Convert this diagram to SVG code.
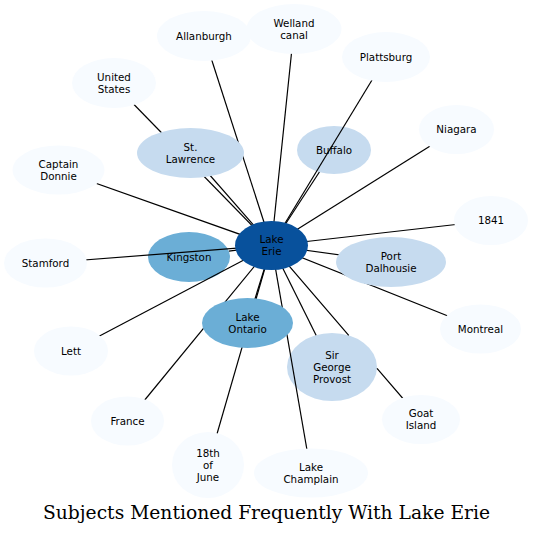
<svg xmlns="http://www.w3.org/2000/svg" width="533" height="534" viewBox="0 0 533 534">
<style>
text{font-family:"DejaVu Sans","Liberation Sans",sans-serif;font-size:10.3px;fill:#000;text-anchor:middle}
.c1{fill:#08519c}
.c2{fill:#6baed6}
.c3{fill:#c6dbef}
.c4{fill:#f7fbff}
#connectors path{stroke:#000;stroke-width:1.2;fill:none}
.title{font-family:"DejaVu Serif","Liberation Serif",serif;font-size:18px}
</style>
<rect width="533" height="534" fill="#fff"/>
<g id="node-kingston"><ellipse class="c2" cx="189" cy="257" rx="41" ry="25"/><text x="189" y="260.7">Kingston</text></g>
<g id="node-buffalo"><ellipse class="c3" cx="334" cy="150" rx="37" ry="24"/><text x="334" y="153.7">Buffalo</text></g>
<g id="node-sir-george-provost"><ellipse class="c3" cx="332" cy="367" rx="45" ry="34"/><text x="332" y="358.5">Sir</text><text x="332" y="370.7">George</text><text x="332" y="382.9">Provost</text></g>
<g id="connectors">
<path d="M204,36L271.5,245.5"/>
<path d="M294,29L271.5,245.5"/>
<path d="M386,57L271.5,245.5"/>
<path d="M114,84L271.5,245.5"/>
<path d="M58.5,170L271.5,245.5"/>
<path d="M456.5,129.5L271.5,245.5"/>
<path d="M491,220.5L271.5,245.5"/>
<path d="M45.5,263L271.5,245.5"/>
<path d="M71,351L271.5,245.5"/>
<path d="M127.5,421L271.5,245.5"/>
<path d="M208,465L271.5,245.5"/>
<path d="M311,473L271.5,245.5"/>
<path d="M271.5,245.5L348.7,335.4M377,368.3L421,419.5"/>
<path d="M480.5,329L271.5,245.5"/>
<path d="M190.5,153L271.5,245.5"/>
<path d="M247.5,323L271.5,245.5"/>
<path d="M391,262L271.5,245.5"/>
<path d="M228.9,251.2L271.5,245.5"/>
<path d="M319.4,172L271.5,245.5"/>
<path d="M316.1,335.2L271.5,245.5"/>
</g>
<g id="node-st-lawrence"><ellipse class="c3" cx="190.5" cy="153" rx="53.5" ry="25"/><text x="190.5" y="150.6">St.</text><text x="190.5" y="162.8">Lawrence</text></g>
<g id="node-lake-ontario"><ellipse class="c2" cx="247.5" cy="323" rx="45.5" ry="25"/><text x="247.5" y="320.6">Lake</text><text x="247.5" y="332.8">Ontario</text></g>
<g id="node-port-dalhousie"><ellipse class="c3" cx="391" cy="262" rx="55" ry="25"/><text x="391" y="259.6">Port</text><text x="391" y="271.8">Dalhousie</text></g>
<g id="node-allanburgh"><ellipse class="c4" cx="204" cy="36" rx="47" ry="25"/><text x="204" y="39.7">Allanburgh</text></g>
<g id="node-welland-canal"><ellipse class="c4" cx="294" cy="29" rx="47.5" ry="25"/><text x="294" y="26.6">Welland</text><text x="294" y="38.8">canal</text></g>
<g id="node-plattsburg"><ellipse class="c4" cx="386" cy="57" rx="44" ry="25"/><text x="386" y="60.7">Plattsburg</text></g>
<g id="node-united-states"><ellipse class="c4" cx="114" cy="83" rx="42" ry="25"/><text x="114" y="80.6">United</text><text x="114" y="92.8">States</text></g>
<g id="node-captain-donnie"><ellipse class="c4" cx="58.5" cy="170" rx="46" ry="24.5"/><text x="58.5" y="167.6">Captain</text><text x="58.5" y="179.8">Donnie</text></g>
<g id="node-niagara"><ellipse class="c4" cx="456.5" cy="129.5" rx="37.5" ry="24.5"/><text x="456.5" y="133.2">Niagara</text></g>
<g id="node-1841"><ellipse class="c4" cx="491" cy="220.5" rx="37" ry="24.5"/><text x="491" y="224.2">1841</text></g>
<g id="node-stamford"><ellipse class="c4" cx="45.5" cy="263" rx="41.5" ry="24.5"/><text x="45.5" y="266.7">Stamford</text></g>
<g id="node-lett"><ellipse class="c4" cx="71" cy="351" rx="37" ry="24.5"/><text x="71" y="354.7">Lett</text></g>
<g id="node-france"><ellipse class="c4" cx="127.5" cy="421" rx="36.5" ry="24.5"/><text x="127.5" y="424.7">France</text></g>
<g id="node-18th-of-june"><ellipse class="c4" cx="208" cy="465" rx="36" ry="33"/><text x="208" y="456.5">18th</text><text x="208" y="468.7">of</text><text x="208" y="480.9">June</text></g>
<g id="node-lake-champlain"><ellipse class="c4" cx="311" cy="473" rx="57" ry="24.5"/><text x="311" y="470.6">Lake</text><text x="311" y="482.8">Champlain</text></g>
<g id="node-goat-island"><ellipse class="c4" cx="421" cy="419.5" rx="39" ry="24.5"/><text x="421" y="417.1">Goat</text><text x="421" y="429.3">Island</text></g>
<g id="node-montreal"><ellipse class="c4" cx="480.5" cy="329" rx="40.5" ry="24.5"/><text x="480.5" y="332.7">Montreal</text></g>
<g id="node-lake-erie"><ellipse class="c1" cx="271.5" cy="245.5" rx="36.5" ry="24.5"/><text x="271.5" y="243.1">Lake</text><text x="271.5" y="255.3">Erie</text></g>
<text class="title" x="266.5" y="519" textLength="447" lengthAdjust="spacingAndGlyphs">Subjects Mentioned Frequently With Lake Erie</text>
</svg>
